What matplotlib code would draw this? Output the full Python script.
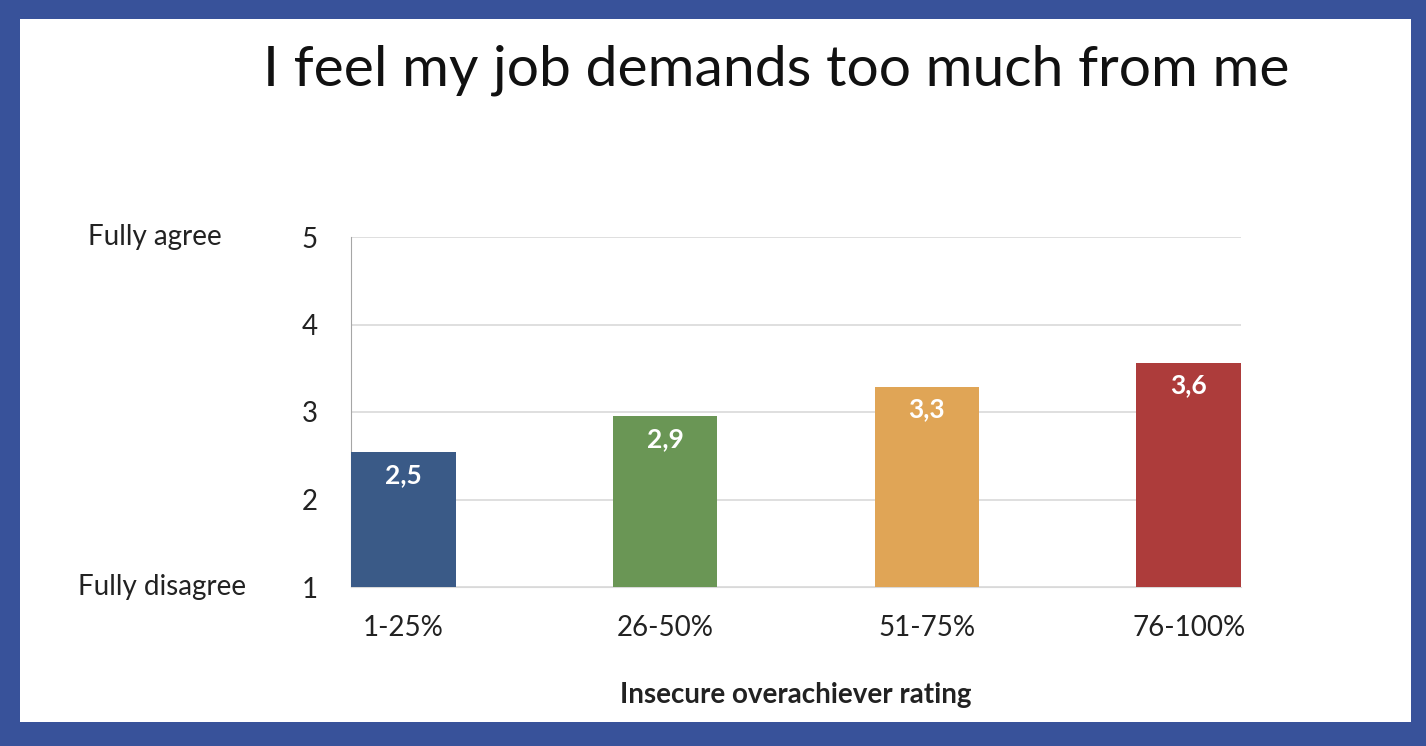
import matplotlib.pyplot as plt
import matplotlib.transforms as mtransforms
from matplotlib.patches import Rectangle

plt.rcParams['font.family'] = ['Lato', 'DejaVu Sans']

categories = ["1-25%", "26-50%", "51-75%", "76-100%"]
values = [2.54, 2.95, 3.29, 3.56]
labels = ["2,5", "2,9", "3,3", "3,6"]
colors = ["#3A5A87", "#6A9655", "#E0A556", "#AD3C3B"]
yticks = [1, 2, 3, 4, 5]

fig = plt.figure(figsize=(14.26, 7.46), dpi=100, facecolor="#38529A")
# White slide area inside the blue frame
fig.patches.append(Rectangle((20 / 1426, 24 / 746), 1391 / 1426, 703 / 746,
                             transform=fig.transFigure, facecolor="white",
                             edgecolor="none", zorder=-10))

ax = fig.add_axes([351 / 1426, 1 - 587 / 746, 890 / 1426, 350 / 746])
ax.set_facecolor("white")

x = range(len(categories))
bars = ax.bar(x, [v - 1 for v in values], bottom=1, width=0.4,
              color=colors, zorder=3)

ax.set_xlim(-0.2, 3.2)
ax.set_ylim(1, 5)
ax.set_yticks(yticks)
ax.set_yticklabels([str(t) for t in yticks])
ax.set_xticks(list(x))
ax.set_xticklabels(categories)
ax.tick_params(axis="both", length=0, labelsize=20, colors="#222222")
ax.tick_params(axis="y", pad=24)
ax.tick_params(axis="x", pad=20)
ax.yaxis.grid(True, color="#D9D9D9", linewidth=1.2, zorder=0)

for side in ["top", "right"]:
    ax.spines[side].set_visible(False)
ax.spines["left"].set_color("#A6A6A6")
ax.spines["bottom"].set_color("#D9D9D9")

# Value labels inside the bars
for rect, lab in zip(bars, labels):
    ax.text(rect.get_x() + rect.get_width() / 2, rect.get_y() + rect.get_height() - 0.12,
            lab, ha="center", va="top", color="white", fontsize=19, fontweight="bold",
            zorder=4)

ax.set_xlabel("Insecure overachiever rating", fontsize=20, fontweight="bold",
              labelpad=30, color="#222222")

# Scale end labels left of the axis
trans = mtransforms.blended_transform_factory(fig.transFigure, ax.transData)
fig.text(88 / 1426, 5, "Fully agree", transform=trans, ha="left", va="center",
         fontsize=20, color="#222222")
fig.text(78 / 1426, 1, "Fully disagree", transform=trans, ha="left", va="center",
         fontsize=20, color="#222222")

fig.text(776 / 1426, 1 - 70 / 746, "I feel my job demands too much from me",
         ha="center", va="center", fontsize=41, color="#111111")

fig.savefig("out.png", dpi=100, facecolor=fig.get_facecolor())
